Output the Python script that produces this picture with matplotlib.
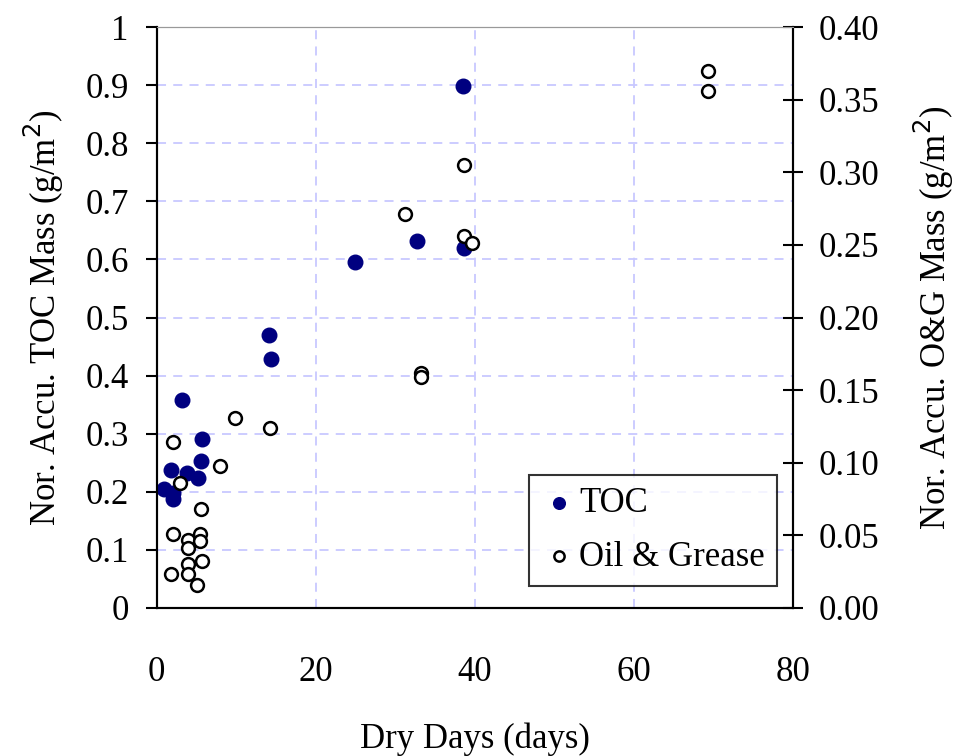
import matplotlib.pyplot as plt

plt.rcParams['font.family'] = ['Liberation Serif', 'DejaVu Serif']

# TOC (left axis, g/m2)
toc_days = [0.9, 1.8, 2.0, 2.0, 3.2, 3.8, 5.2, 5.6, 5.7, 14.1, 14.4, 24.9, 32.7, 38.7, 38.5]
toc_mass = [0.204, 0.237, 0.198, 0.187, 0.358, 0.233, 0.224, 0.253, 0.290,
            0.470, 0.429, 0.596, 0.631, 0.620, 0.898]

# Oil & Grease (right axis, g/m2)
og_days = [69.3, 69.3, 38.7, 31.2, 38.7, 39.7, 33.3, 33.3, 9.9, 14.3, 8.0, 2.05, 3.0,
           5.6, 2.05, 3.9, 5.4, 5.4, 3.9, 5.7, 3.9, 1.8, 3.9, 5.1]
og_mass = [0.370, 0.356, 0.305, 0.271, 0.256, 0.251, 0.162, 0.159, 0.131, 0.124, 0.098,
           0.114, 0.086, 0.068, 0.051, 0.047, 0.051, 0.046, 0.041, 0.032, 0.030, 0.023,
           0.023, 0.016]

fs = 25

fig = plt.figure(figsize=(9.55, 7.56), dpi=100)
ax = fig.add_axes([0.164, 0.196, 0.666, 0.768])
ax2 = ax.twinx()

grid_col = '#c8c8ff'
ax.set_xlim(0, 80)
ax.set_ylim(0, 1)
ax2.set_ylim(0, 0.40)
ax.set_xticks([0, 20, 40, 60, 80])
ax.set_yticks([i / 10 for i in range(11)])
ax.set_yticklabels(['0'] + ['%.1f' % (i / 10) for i in range(1, 10)] + ['1'])
ax2.set_yticks([i * 0.05 for i in range(9)])
ax2.set_yticklabels(['%.2f' % (i * 0.05) for i in range(9)])
ax.grid(True, color=grid_col, linestyle=(0, (5, 4)), linewidth=1.3)
ax.set_axisbelow(True)

ax.scatter(toc_days, toc_mass, s=110, color='#000080', zorder=3, label='TOC')
ax2.scatter(og_days, og_mass, s=85, facecolor='white', edgecolor='black',
            linewidth=1.8, zorder=4, label='Oil & Grease')

ax.set_xlabel('Dry Days (days)', fontsize=fs, labelpad=24)
ax.set_ylabel('Nor. Accu. TOC Mass (g/m$^2$)', fontsize=fs, labelpad=14)
ax2.set_ylabel('Nor. Accu. O&G Mass (g/m$^2$)', fontsize=fs, labelpad=23)

ax.tick_params(axis='y', labelsize=fs, direction='out', length=8, width=1.5, pad=12)
ax.tick_params(axis='x', labelsize=fs, direction='out', length=0, width=1.5, pad=35)
ax2.tick_params(axis='y', labelsize=fs, direction='inout', length=14, width=1.5, pad=12)

for a in (ax, ax2):
    a.spines['top'].set_color('#999999')
    a.spines['left'].set_linewidth(1.5)
    a.spines['right'].set_linewidth(1.5)
    a.spines['bottom'].set_linewidth(1.5)

h1, l1 = ax.get_legend_handles_labels()
h2, l2 = ax2.get_legend_handles_labels()
leg = ax2.legend(h1 + h2, l1 + l2, loc='lower right', bbox_to_anchor=(0.976, 0.038),
                 fontsize=fs, markerscale=0.8, frameon=True, fancybox=False,
                 handletextpad=0.1, borderpad=0.35, labelspacing=0.6, handlelength=1.0,
                 borderaxespad=0)
leg.get_frame().set_edgecolor('black')
leg.get_frame().set_linewidth(1.5)

plt.savefig('out.png', dpi=100)
